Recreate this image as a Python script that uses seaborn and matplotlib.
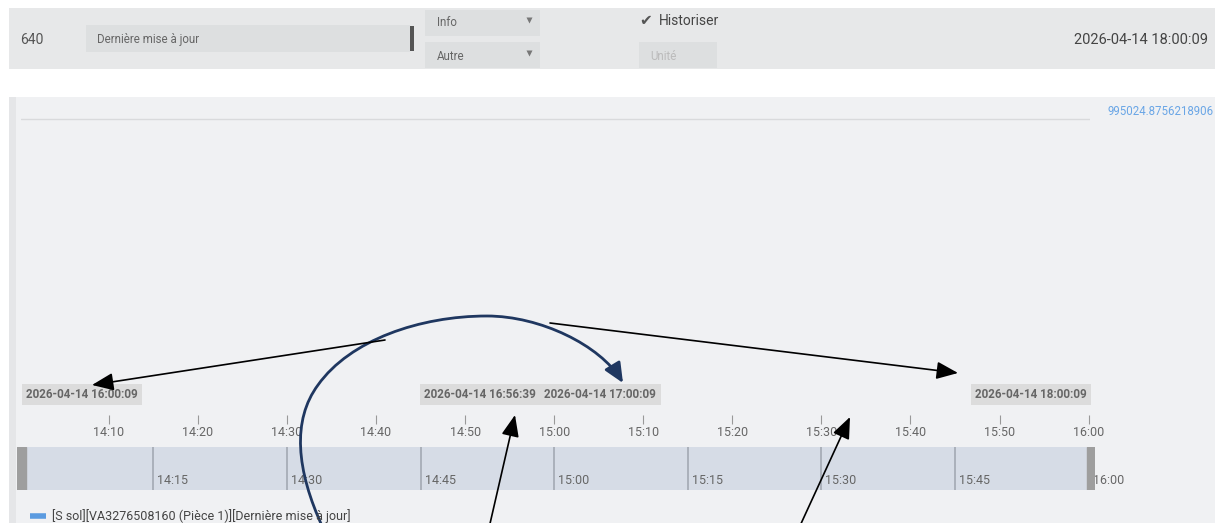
import matplotlib
matplotlib.use("Agg")
import matplotlib.pyplot as plt
import matplotlib.dates as mdates
from matplotlib.patches import Rectangle, FancyArrowPatch
from matplotlib.path import Path
import pandas as pd
import seaborn as sns

W, H = 1215, 523

# ---- data ----
row_id = "640"
field_name = "Dernière mise à jour"
type_options = ["Info", "Autre"]
history_label = "Historiser"
unit_placeholder = "Unité"
last_update = "2026-04-14 18:00:09"
range_start = "2026-04-14 16:00:09"
range_end = "2026-04-14 18:00:09"
flag_labels = ["2026-04-14 16:00:09", "2026-04-14 16:56:39",
               "2026-04-14 17:00:09", "2026-04-14 18:00:09"]
series_name = "[S sol][VA3276508160 (Pièce 1)][Dernière mise à jour]"
series_times = ["2026-04-14 18:00:09"]
series_values = [995024.8756218906]
utc_shift_hours = 2   # labels are local time, axis is UTC

sns.set_style("white")
plt.rcParams["font.family"] = ["Roboto", "DejaVu Sans"]

shift = pd.Timedelta(hours=utc_shift_hours)
t0 = pd.Timestamp(range_start) - shift
t1 = pd.Timestamp(range_end) - shift
x0n, x1n = mdates.date2num(t0), mdates.date2num(t1)
px_per_day = (1090 - 21) / (x1n - x0n)

blue = "#5b9be0"
grey_txt = "#666666"


def frac(x0, y0, x1, y1):
    return [x0 / W, 1 - y1 / H, (x1 - x0) / W, (y1 - y0) / H]


def box(ax, x0, y0, x1, y1, color, **kw):
    ax.add_patch(Rectangle((x0, y0), x1 - x0, y1 - y0, facecolor=color,
                           edgecolor="none", **kw))


fig = plt.figure(figsize=(W / 100, H / 100), dpi=100)
fig.patch.set_facecolor("white")

# background layer (pixel coords)
bg = fig.add_axes([0, 0, 1, 1])
bg.set_xlim(0, W)
bg.set_ylim(H, 0)
bg.axis("off")

# top form row
box(bg, 9, 8, W, 69, "#e7e8e9")
box(bg, 86, 25, 410, 52, "#dddfe0")
box(bg, 410, 26, 414, 51, "#555555")
box(bg, 425, 10, 540, 36, "#dddfe0")
box(bg, 425, 42, 540, 68, "#dddfe0")
box(bg, 639, 42, 717, 68, "#dddfe0")
bg.text(20, 40, row_id, fontsize=10, color="#555555", va="center")
bg.text(97, 39, field_name, fontsize=8.3, color=grey_txt, va="center")
for opt, yy in zip(type_options, [23, 56]):
    bg.text(437, yy, opt, fontsize=8.3, color=grey_txt, va="center")
    bg.plot(529, yy - 3, marker="v", ms=5, color="#777777", mec="none")
bg.text(639, 21, "\u2714", fontsize=11, color="#555555", va="center")
bg.text(659, 21, history_label, fontsize=10, color="#444444", va="center")
bg.text(650, 56, unit_placeholder, fontsize=8.3, color="#bbbbbb", va="center")
bg.text(1208, 40, last_update, fontsize=10.5, color="#444444",
        va="center", ha="right")

# chart panel
box(bg, 9, 97, W, H, "#f0f1f3")
box(bg, 9, 97, 16, H, "#e5e6e8")

# main plot area
chart = fig.add_axes(frac(21, 118, 1090, 412))
chart.set_facecolor("none")
times = [pd.Timestamp(t) - shift for t in series_times]
sns.lineplot(x=times, y=series_values, ax=chart, color=blue, linewidth=4,
             label=series_name, solid_capstyle="butt")
if chart.get_legend() is not None:
    chart.get_legend().remove()
chart.set_xlim(x0n, x1n)
chart.set_ylim(0, max(series_values) * 1.003)
chart.set_yticks([max(series_values)])
chart.yaxis.grid(True, color="#d9dadc", lw=1)
chart.xaxis.grid(False)
chart.tick_params(left=False, labelleft=False, bottom=False, labelbottom=False)
chart.set_xlabel("")
chart.set_ylabel("")
for s in chart.spines.values():
    s.set_visible(False)
chart.annotate(f"{series_values[-1]}", xy=(1, series_values[-1]),
               xycoords=("axes fraction", "data"), xytext=(17, 7),
               textcoords="offset pixels", ha="left", va="center",
               color="#6aa6e6", fontsize=8.3, annotation_clip=False)

# flags
flag_align = ["left", "right", "left", "right"]
flag_dx = [5, 12, -11, -3]
for lbl, ha, dx in zip(flag_labels, flag_align, flag_dx):
    tt = mdates.date2num(pd.Timestamp(lbl) - shift)
    chart.annotate(lbl, xy=(tt, 0), xycoords=("data", "axes fraction"),
                   xytext=(dx, 17.5), textcoords="offset pixels", ha=ha,
                   va="center", fontsize=8.4, fontweight="bold", color=grey_txt,
                   annotation_clip=False,
                   bbox=dict(boxstyle="square,pad=0.36", fc="#dcdcdc", ec="none"))

# time axis
tax = fig.add_axes(frac(21, 405, 1090, 415))
tax.set_facecolor("none")
tax.set_xlim(x0n, x1n)
tax.xaxis.set_major_locator(mdates.MinuteLocator(byminute=range(0, 60, 10)))
tax.xaxis.set_major_formatter(mdates.DateFormatter("%H:%M"))
tax.set_yticks([])
tax.tick_params(axis="x", bottom=True, direction="out", length=6.2, width=0.8,
                color="#999999", labelcolor=grey_txt, labelsize=9, pad=1.8)
for s in tax.spines.values():
    s.set_visible(False)

# navigator
nav = fig.add_axes(frac(17, 447, 1095, 490))
nl0, nl1 = x0n - 4 / px_per_day, x1n + 5 / px_per_day
nav.set_xlim(nl0, nl1)
nav.set_ylim(0, 1)
nav.set_facecolor("#d6dce6")
nav.set_xticks([])
nav.set_yticks([])
for s in nav.spines.values():
    s.set_visible(False)
nav_ticks = pd.date_range(t0.ceil("15min"), t1, freq="15min")
for tk in nav_ticks:
    tn = mdates.date2num(tk)
    nav.axvline(tn, color="#a3a9b3", lw=1.2)
    nav.annotate(tk.strftime("%H:%M"), xy=(tn, 0), xycoords=("data", "axes fraction"),
                 xytext=(4, 9), textcoords="offset pixels", ha="left", va="center",
                 fontsize=9, color=grey_txt, annotation_clip=False)
nav.axvspan(nl0, nl0 + 9 / px_per_day, color="#9e9e9e", zorder=5)
nav.axvspan(nl1 - 8 / px_per_day, nl1, color="#9e9e9e", zorder=5)

# legend
handles, labels = chart.get_legend_handles_labels()
fig.legend(handles, labels, loc="center left", bbox_to_anchor=(30 / W, 1 - 516 / H),
           frameon=False, fontsize=9, handlelength=1.3, handletextpad=0.45,
           labelcolor="#444444", borderaxespad=0, borderpad=0)

# annotation overlay (pixel coords)
ov = fig.add_axes([0, 0, 1, 1])
ov.set_xlim(0, W)
ov.set_ylim(H, 0)
ov.axis("off")
ov.set_facecolor("none")

arrow_props = dict(arrowstyle="-|>,head_length=1.1,head_width=0.45",
                   mutation_scale=12, color="black", lw=1.2,
                   shrinkA=0, shrinkB=0)
black_arrows = [((385, 340), (92, 385)), ((550, 323), (958, 373)),
                ((489, 528), (515, 415)), ((799, 528), (850, 417))]
for start, tip in black_arrows:
    ov.annotate("", xy=tip, xytext=start, arrowprops=arrow_props)

curve = Path([(323, 528), (296, 470), (292, 420), (318, 385),
              (350, 340), (420, 316), (487, 316),
              (540, 316), (600, 345), (623, 383)],
             [Path.MOVETO, Path.CURVE4, Path.CURVE4, Path.CURVE4,
              Path.CURVE4, Path.CURVE4, Path.CURVE4,
              Path.CURVE4, Path.CURVE4, Path.CURVE4])
ov.add_patch(FancyArrowPatch(path=curve,
                             arrowstyle="-|>,head_length=1.0,head_width=0.45",
                             mutation_scale=12, color="#1f3760", lw=2))

fig.savefig("out.png", dpi=100)
